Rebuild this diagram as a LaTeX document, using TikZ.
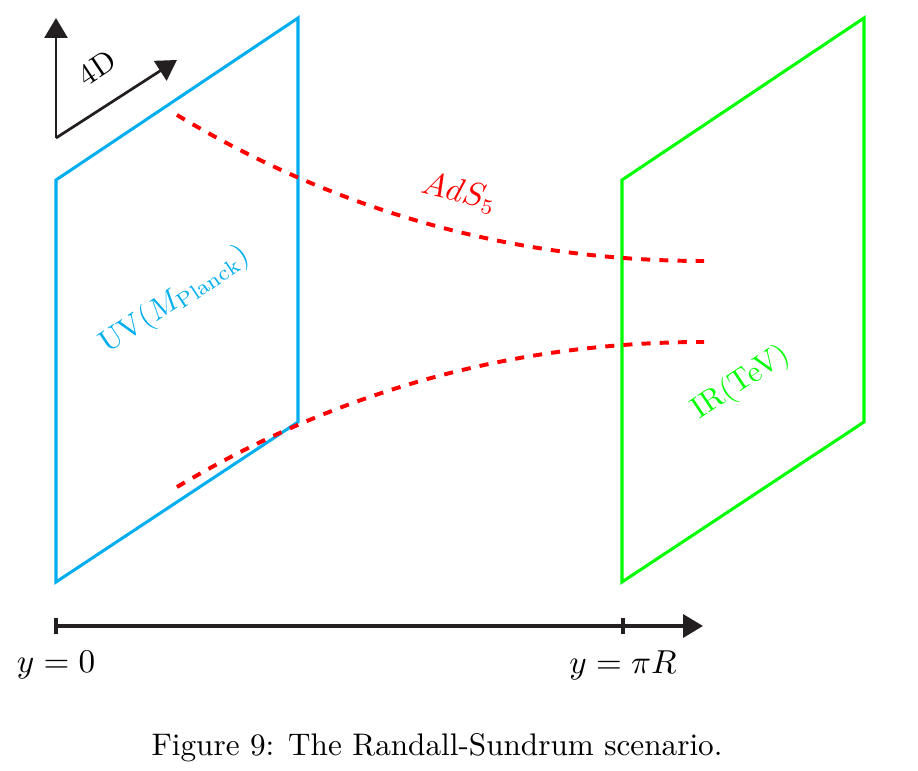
\documentclass[tikz,border=0pt]{standalone}
\usepackage{amsmath}
\usetikzlibrary{arrows.meta,positioning}
\definecolor{uvblue}{RGB}{0,174,239}
\definecolor{irgreen}{RGB}{0,255,0}
\definecolor{adsred}{RGB}{255,0,0}
\definecolor{ink}{RGB}{35,31,32}
\tikzset{
  brane/.style={line width=1pt, line join=miter},
  bulk/.style={adsred, dashed, line width=1.3pt},
  axis/.style={-{Triangle[length=6.6pt,width=7.6pt]}, ink, line width=1.1pt},
  lbl/.style={inner sep=0pt, font=\normalsize},
  poslbl/.style={inner sep=0pt, font=\fontsize{11}{13}\selectfont},
}

\begin{document}
\begin{tikzpicture}[x=0.33pt,y=0.33pt]
    \useasboundingbox (0,0) rectangle (918,771);
    \coordinate (uvtl) at (56,591);  \coordinate (uvtr) at (298,753);
    \coordinate (uvbr) at (298,349); \coordinate (uvbl) at (56,189);
    \coordinate (irtl) at (622,591); \coordinate (irtr) at (864,753);
    \coordinate (irbr) at (864,349); \coordinate (irbl) at (622,189);
    \draw[brane, uvblue] (uvtl) -- (uvtr) -- (uvbr) -- (uvbl) -- cycle;
    \draw[brane, irgreen] (irtl) -- (irtr) -- (irbr) -- (irbl) -- cycle;
    \coordinate (up0) at (177,656); \coordinate (up1) at (704,510);
    \coordinate (lo0) at (177,284); \coordinate (lo1) at (704,429);
    \draw[bulk] (up0) .. controls (339,558.7) and (514.7,510) .. (up1);
    \draw[bulk] (lo0) .. controls (339,380.7) and (514.7,429) .. (lo1);
    \coordinate (o4) at (56,633); \coordinate (x4) at (56,753); \coordinate (d4) at (177,711);
    \draw[axis, line width=0.9pt] (o4) -- (x4);
    \draw[axis, line width=0.9pt] (o4) -- (d4);
    \coordinate (y0) at (56,145); \coordinate (ypi) at (623,145); \coordinate (yend) at (703,145);
    \draw[axis] (y0) -- (yend);
    \draw[ink, line width=1.1pt] ([yshift=-8*0.33pt]y0) -- ([yshift=8*0.33pt]y0);
    \draw[ink, line width=1.1pt] ([yshift=-8*0.33pt]ypi) -- ([yshift=8*0.33pt]ypi);
    \node[lbl, rotate=33.7] (fourd) at (97,703) {4D};
    \node[lbl, rotate=33.7, text=uvblue] (uvlbl) at (175,471) {UV$(M_{\text{Planck}})$};
    \node[lbl, rotate=33.7, text=irgreen] (irlbl) at (741,388) {IR(TeV)};
    \node[lbl, rotate=-14, text=adsred, font=\fontsize{10.5}{12}\selectfont] (adslbl) at (459,578) {$AdS_5$};
    \node[poslbl, below=8pt of y0] (y0lbl) {$y=0$};
    \node[poslbl, below=8pt of ypi] (ypilbl) {$y=\pi R$};
    \node[lbl, font=\fontsize{10.3}{12}\selectfont] (caption) at (437,23) {Figure 9: The Randall-Sundrum scenario.};
\end{tikzpicture}
\end{document}
